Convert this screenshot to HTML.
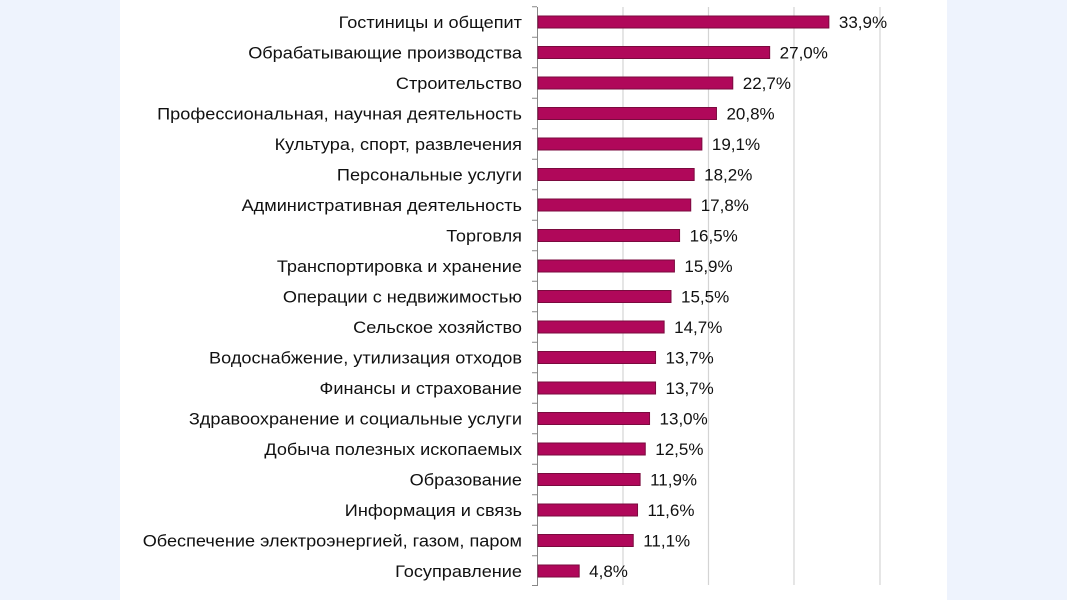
<!DOCTYPE html><html><head><meta charset="utf-8"><style>
body{margin:0;width:1067px;height:600px;overflow:hidden;background:#eef3fd;font-family:"Liberation Sans",sans-serif;}
#p{position:absolute;left:120px;top:0;width:827px;height:600px;background:#fff;}
</style></head><body><div id="p"></div>
<svg width="1067" height="600" style="position:absolute;left:0;top:0" font-family="Liberation Sans, sans-serif" font-size="17">
<g stroke="#d4d4d4" stroke-width="1.2">
<line x1="623" y1="7" x2="623" y2="585"/><line x1="708.5" y1="7" x2="708.5" y2="585"/><line x1="794" y1="7" x2="794" y2="585"/><line x1="880" y1="7" x2="880" y2="585"/>
</g>
<line x1="537.5" y1="7" x2="537.5" y2="586" stroke="#888" stroke-width="1"/>
<g id="rows"></g>
<g id="labs" transform="translate(522,0) scale(1.067,1) translate(-522,0)"></g>
</svg>
<script>
var d=[["Гостиницы и общепит",33.9],["Обрабатывающие производства",27.0],["Строительство",22.7],["Профессиональная, научная деятельность",20.8],["Культура, спорт, развлечения",19.1],["Персональные услуги",18.2],["Административная деятельность",17.8],["Торговля",16.5],["Транспортировка и хранение",15.9],["Операции с недвижимостью",15.5],["Сельское хозяйство",14.7],["Водоснабжение, утилизация отходов",13.7],["Финансы и страхование",13.7],["Здравоохранение и социальные услуги",13.0],["Добыча полезных ископаемых",12.5],["Образование",11.9],["Информация и связь",11.6],["Обеспечение электроэнергией, газом, паром",11.1],["Госуправление",4.8]];
var s='',t='';
d.forEach(function(r,i){var c=22+i*30.5,w=r[1]*8.58;
s+='<line x1="532" x2="537" y1="'+(c-15.25)+'" y2="'+(c-15.25)+'" stroke="#888"/>';
s+='<rect x="538" y="'+(c-6)+'" width="'+w+'" height="12" fill="#b0085a" stroke="#7a0a3e" stroke-width="1"/>';
t+='<text x="522" y="'+(c+6)+'" text-anchor="end" fill="#111">'+r[0]+'</text>';
s+='<text x="'+(538+w+10)+'" y="'+(c+6)+'" fill="#111">'+r[1].toFixed(1).replace('.',',')+'%</text>';});
s+='<line x1="532" x2="537" y1="585.5" y2="585.5" stroke="#888"/>';
document.getElementById('rows').innerHTML=s;
document.getElementById('labs').innerHTML=t;
</script>
</body></html>
